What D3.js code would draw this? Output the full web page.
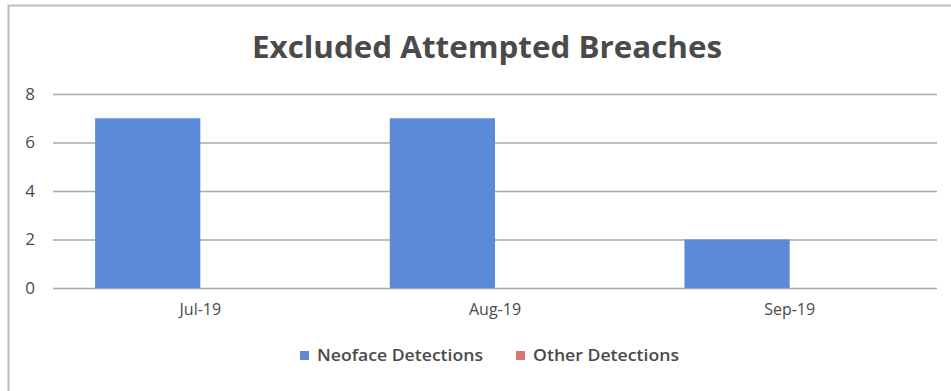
<!DOCTYPE html>
<html>
<head>
<meta charset="utf-8">
<script src="https://cdn.jsdelivr.net/npm/d3@7"></script>
<style>
  html, body { margin: 0; padding: 0; background: #fff; }
  svg { display: block; }
  text { font-family: "Open Sans", "Noto Sans", sans-serif; fill: #4a4a4a; }
</style>
</head>
<body>
<svg id="chart" width="951" height="391"></svg>
<script>
// Monthly counts of excluded attempted breaches
const months = ["Jul-19", "Aug-19", "Sep-19"];
const seriesNames = ["Neoface Detections", "Other Detections"];
const neofaceDetections = [7, 7, 2];
const otherDetections = [0, 0, 0];
const yTicks = [0, 2, 4, 6, 8];
const chartTitle = "Excluded Attempted Breaches";

const seriesColors = ["#5b8bd8", "#d9786c"];
const seriesValues = [neofaceDetections, otherDetections];

const plot = { left: 53, right: 937, top: 94, bottom: 288 };

const svg = d3.select("#chart");

// Frame edges of the chart area (top and left)
svg.append("path")
  .attr("d", "M8.5,391 V5.5 H951")
  .attr("fill", "none")
  .attr("stroke", "#bdbdbd")
  .attr("stroke-width", 2);

const x0 = d3.scaleBand().domain(months).range([plot.left, plot.right]).padding(0);
const x1 = d3.scaleBand().domain(seriesNames).range([0, x0.bandwidth()])
  .paddingInner(0).paddingOuter(0.4);
const y = d3.scaleLinear().domain([0, 8]).range([plot.bottom, plot.top]);

// Horizontal gridlines
const yAxis = d3.axisLeft(y).tickValues(yTicks)
  .tickSize(-(plot.right - plot.left)).tickPadding(18).tickFormat(d3.format("d"));
const gy = svg.append("g").attr("transform", `translate(${plot.left},0)`).call(yAxis);
gy.select(".domain").remove();
gy.selectAll(".tick line").attr("stroke", "#a9a9a9").attr("stroke-width", 1.6);
gy.selectAll(".tick text")
  .attr("font-size", 17).attr("fill", "#4a4a4a")
  .style("font-family", "'Open Sans', sans-serif");

// Bars
const groups = svg.append("g").selectAll("g")
  .data(months)
  .join("g")
  .attr("transform", d => `translate(${x0(d)},0)`);

groups.selectAll("rect")
  .data((m, i) => seriesNames.map((s, k) => ({ series: s, value: seriesValues[k][i], color: seriesColors[k] })))
  .join("rect")
  .attr("x", d => x1(d.series))
  .attr("width", x1.bandwidth())
  .attr("y", d => y(d.value))
  .attr("height", d => y(0) - y(d.value))
  .attr("fill", d => d.color);

// Category axis labels
const xAxis = d3.axisBottom(x0).tickSize(0).tickPadding(16);
const gx = svg.append("g").attr("transform", `translate(0,${plot.bottom})`).call(xAxis);
gx.select(".domain").remove();
gx.selectAll(".tick text")
  .attr("font-size", 16).attr("fill", "#4a4a4a")
  .style("font-family", "'Open Sans', sans-serif");

// Title
svg.append("text")
  .attr("x", 487).attr("y", 58)
  .attr("text-anchor", "middle")
  .attr("font-size", 31)
  .attr("font-weight", 700)
  .attr("textLength", 470)
  .attr("lengthAdjust", "spacingAndGlyphs")
  .text(chartTitle);

// Legend
const legendItems = [
  { name: seriesNames[0], color: seriesColors[0], x: 300, w: 166 },
  { name: seriesNames[1], color: seriesColors[1], x: 516, w: 146 }
];
const lg = svg.append("g").selectAll("g").data(legendItems).join("g")
  .attr("transform", d => `translate(${d.x},351)`);
lg.append("rect").attr("width", 9).attr("height", 9).attr("fill", d => d.color);
lg.append("text")
  .attr("x", 17).attr("y", 10)
  .attr("font-size", 16)
  .attr("font-weight", 600)
  .attr("textLength", d => d.w)
  .attr("lengthAdjust", "spacingAndGlyphs")
  .text(d => d.name);
</script>
</body>
</html>
